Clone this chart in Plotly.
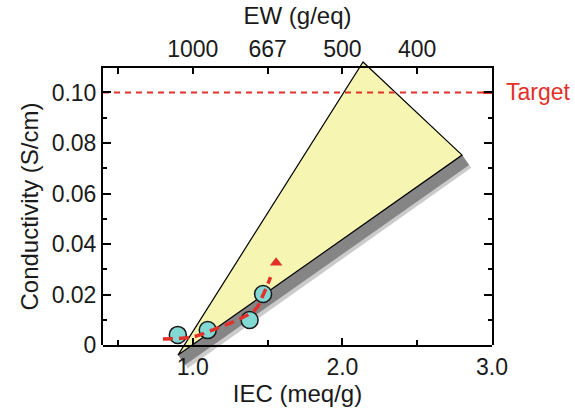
import plotly.graph_objects as go

# ---------------- data ----------------
iec_meas = [0.90, 1.10, 1.38, 1.47]
cond_meas = [0.0040, 0.0059, 0.0099, 0.0202]

fit_iec = [0.80, 1.00, 1.18, 1.30, 1.42, 1.47, 1.52]
fit_cond = [0.0024, 0.0032, 0.0071, 0.0099, 0.0142, 0.0198, 0.0269]
arrow_iec = [1.557]
arrow_cond = [0.0326]

region_iec = [0.901, 2.138, 2.800, 0.901]
region_cond = [-0.0040, 0.1121, 0.0752, -0.0040]

shadow_iec = [0.901, 2.800, 2.847, 0.948, 0.901]
shadow_cond = [-0.0040, 0.0752, 0.0713, -0.0079, -0.0040]
shadow2_iec = [0.905, 2.800, 2.862, 0.967, 0.905]
shadow2_cond = [-0.0040, 0.0752, 0.0702, -0.0092, -0.0040]

target_cond = 0.10
target_iec = [0.4, 3.0]
target_end_iec = [2.94, 3.0]

x_range = [0.4, 3.0]
y_range = [0.0, 0.1097]
x_major = [1.0, 2.0, 3.0]
x_major_text = ["1.0", "2.0", "3.0"]
x_minor = [0.5, 1.5, 2.5]
ew_vals = [0.5, 1.0, 1.5, 2.0, 2.5]
ew_text = ["", "1000", "667", "500", "400"]
y_major = [0.0, 0.02, 0.04, 0.06, 0.08, 0.10]
y_major_text = ["0", "0.02", "0.04", "0.06", "0.08", "0.10"]
y_minor = [0.01, 0.03, 0.05, 0.07, 0.09]

# ---------------- layout geometry ----------------
W, H = 575, 408
ml, mr, mt, mb = 103, 83, 58, 33
plot_top_px, plot_bot_px = 68, 345
ph = H - mt - mb
d0 = (H - mb - plot_bot_px) / ph
d1 = (H - mb - plot_top_px) / ph
span = (y_range[1] - y_range[0]) / (d1 - d0)
y3_range = [y_range[0] - d0 * span, y_range[1] + (1 - d1) * span]

RED = "#e2302a"
FONT = "Liberation Sans, Arial, sans-serif"
TICK_SIZE = 23
TITLE_SIZE = 24

fig = go.Figure()

# shadow (soft outer + inner)
fig.add_trace(go.Scatter(x=shadow2_iec, y=shadow2_cond, xaxis="x", yaxis="y3",
                         mode="lines", fill="toself", line=dict(width=0),
                         fillcolor="rgba(140,140,140,0.45)", hoverinfo="skip"))
fig.add_trace(go.Scatter(x=shadow_iec, y=shadow_cond, xaxis="x", yaxis="y3",
                         mode="lines", fill="toself", line=dict(width=0),
                         fillcolor="#858585", hoverinfo="skip"))
# yellow region
fig.add_trace(go.Scatter(x=region_iec, y=region_cond, xaxis="x", yaxis="y3",
                         mode="lines", fill="toself", fillcolor="#f7f5b2",
                         line=dict(color="black", width=1.2), hoverinfo="skip"))
# target line
fig.add_trace(go.Scatter(x=target_iec, y=[target_cond] * 2, xaxis="x", yaxis="y3",
                         mode="lines", line=dict(color=RED, width=2, dash="6px,5px")))
fig.add_trace(go.Scatter(x=target_end_iec, y=[target_cond] * 2, xaxis="x", yaxis="y3",
                         mode="lines", line=dict(color=RED, width=3)))
# measured points
fig.add_trace(go.Scatter(x=iec_meas, y=cond_meas, xaxis="x", yaxis="y3",
                         mode="markers",
                         marker=dict(size=17, color="#82d9d3",
                                     line=dict(color="#1a1a1a", width=1.5))))
# fit curve
fig.add_trace(go.Scatter(x=fit_iec, y=fit_cond, xaxis="x", yaxis="y3",
                         mode="lines", line=dict(color=RED, width=3.5, dash="10px,6px",
                                                 shape="spline")))
fig.add_trace(go.Scatter(x=arrow_iec, y=arrow_cond, xaxis="x", yaxis="y3",
                         mode="markers",
                         marker=dict(symbol="triangle-up", size=11, color=RED)))

axis_common = dict(showgrid=False, zeroline=False, showline=True, linecolor="black",
                   linewidth=2, ticks="inside", tickcolor="black", tickwidth=1.5,
                   automargin=False,
                   tickfont=dict(family=FONT, size=TICK_SIZE, color="#1a1a1a"))

fig.update_layout(
    width=W, height=H, showlegend=False,
    margin=dict(l=ml, r=mr, t=mt, b=mb, autoexpand=False),
    paper_bgcolor="white", plot_bgcolor="rgba(0,0,0,0)",
    font=dict(family=FONT, size=TICK_SIZE, color="#1a1a1a"),
    xaxis=dict(range=x_range, domain=[0, 1], anchor="y",
               tickmode="array", tickvals=x_major, ticktext=x_major_text, ticklen=7,
               minor=dict(tickmode="array", tickvals=x_minor, ticklen=5, ticks="inside",
                          tickcolor="black", tickwidth=1.5),
               title=dict(text="IEC (meq/g)", font=dict(family=FONT, size=TITLE_SIZE),
                          standoff=2),
               **axis_common),
    xaxis2=dict(range=x_range, overlaying="x", side="top", anchor="y",
                tickmode="array", tickvals=ew_vals, ticktext=ew_text, ticklen=6,
                title=dict(text="EW (g/eq)", font=dict(family=FONT, size=TITLE_SIZE),
                           standoff=4),
                **axis_common),
    yaxis=dict(range=y_range, domain=[d0, d1], anchor="x", mirror="ticks",
               tickmode="array", tickvals=y_major, ticktext=y_major_text, ticklen=8,
               minor=dict(tickmode="array", tickvals=y_minor, ticklen=4, ticks="inside",
                          tickcolor="black", tickwidth=1.5),
               title=dict(text="Conductivity (S/cm)", font=dict(family=FONT, size=TITLE_SIZE),
                          standoff=6),
               **axis_common),
    yaxis3=dict(range=y3_range, domain=[0, 1], anchor="x", visible=False),
    annotations=[dict(text="Target", xref="paper", yref="y", x=1, y=target_cond,
                      xanchor="left", yanchor="middle", xshift=12, showarrow=False,
                      font=dict(family=FONT, size=TICK_SIZE, color=RED))],
)

# dummy trace so xaxis2 is rendered
fig.add_trace(go.Scatter(x=[None], y=[None], xaxis="x2", yaxis="y", showlegend=False,
                         hoverinfo="skip"))

fig.write_html("out.html", config={"displayModeBar": False},
               post_script="document.body.style.margin='0';document.body.style.padding='0';")
